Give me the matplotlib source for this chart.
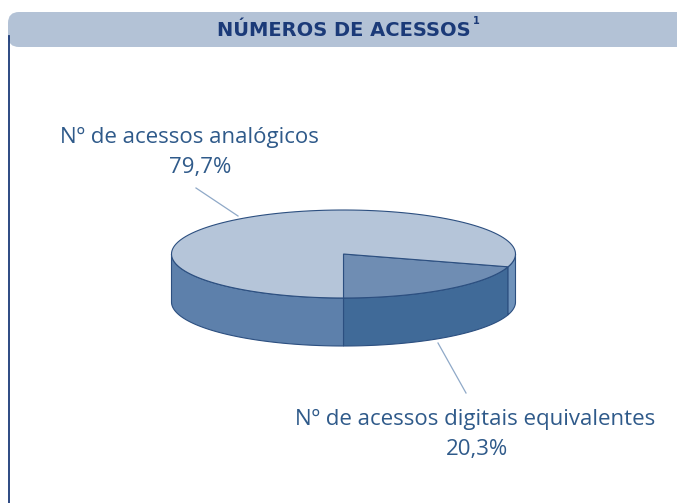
"""
Números de acessos - 3D pie chart (analog vs digital equivalent accesses)
"""

import numpy as np
import matplotlib.pyplot as plt
from matplotlib.patches import Polygon, FancyBboxPatch

# ============================================================================
# Data
# ============================================================================
categories = ["Nº de acessos digitais equivalentes", "Nº de acessos analógicos"]
shares = [20.3, 79.7]
share_labels = ["20,3%", "79,7%"]
title = "NÚMEROS DE ACESSOS"

top_colors = ["#6f8db3", "#b5c5d9"]
# side colour for (left-front, right-front) part of each slice wall
side_colors = [("#406a98", "#406a98"), ("#5d80ab", "#7093bb")]
edge_color = "#2c4f80"
text_color = "#2f5a8a"
navy = "#1b3a78"

# pie geometry in pixel space
CX, CY = 343.5, 254.0
RX, RY = 172.0, 44.0
DEPTH = 48.0
START = 270.0


def ellipse_pts(t1, t2, dy=0.0, n=120):
    t = np.radians(np.linspace(t1, t2, n))
    return np.column_stack([CX + RX * np.cos(t), CY - RY * np.sin(t) + dy])


def slice_angles(values, start):
    total = sum(values)
    angles = []
    a = start
    for v in values:
        b = a + 360.0 * v / total
        angles.append((a, b))
        a = b
    return angles


def draw_side(ax, t1, t2, colors):
    """Draw the visible (front) part of the side wall between t1 and t2."""
    # visible front half is angles 180..360 (mod 360)
    for k in (-360, 0, 360):
        lo = max(t1, 180 + k)
        hi = min(t2, 360 + k)
        if hi > lo:
            mid = (lo + hi) / 2 - k
            color = colors[0] if mid < 270 else colors[1]
            top = ellipse_pts(lo, hi)
            bot = ellipse_pts(hi, lo, dy=DEPTH)
            ax.add_patch(Polygon(np.vstack([top, bot]), closed=True,
                                 facecolor=color, edgecolor=edge_color, lw=0.8))


def draw_top(ax, t1, t2, color):
    arc = ellipse_pts(t1, t2)
    pts = np.vstack([[CX, CY], arc])
    ax.add_patch(Polygon(pts, closed=True, facecolor=color,
                         edgecolor=edge_color, lw=0.8))


fig = plt.figure(figsize=(6.77, 5.03), dpi=100)
ax = fig.add_axes([0, 0, 1, 1])
ax.set_xlim(0, 677)
ax.set_ylim(503, 0)
ax.axis('off')

# header band
ax.add_patch(FancyBboxPatch((8, 12), 720, 35, boxstyle="round,pad=0,rounding_size=11",
                            facecolor="#b3c2d6", edgecolor="none", clip_on=False))
ax.plot([9, 9], [36, 503], color=navy, lw=1.3)
ax.text(344, 30, title, ha='center', va='center', fontsize=14,
        fontweight='bold', color=navy)
ax.text(476, 21, "1", ha='center', va='center', fontsize=7,
        fontweight='bold', color=navy)

angles = slice_angles(shares, START)

# sides first, then tops
for (t1, t2), c in zip(angles, side_colors):
    draw_side(ax, t1, t2, c)
for (t1, t2), c in zip(angles, top_colors):
    draw_top(ax, t1, t2, c)

# leader lines
ax.plot([196, 238], [188, 216], color="#8fa9c8", lw=0.9)
ax.plot([438, 466], [343, 393], color="#8fa9c8", lw=0.9)

# labels
font = dict(ha='center', va='center', fontsize=16, color=text_color, family='Open Sans')
ax.text(189, 137, categories[1], **font)
ax.text(200, 167, share_labels[1], **font)
ax.text(475, 419, categories[0], **font)
ax.text(477, 449, share_labels[0], **font)

plt.savefig('out.png', dpi=100)
